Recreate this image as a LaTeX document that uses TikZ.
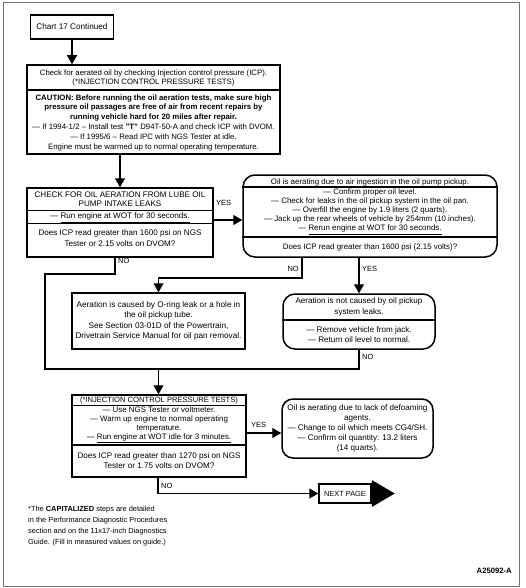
\documentclass[tikz,border=0pt]{standalone}
\usepackage{fontspec}
\setmainfont{Liberation Sans}
\usetikzlibrary{arrows.meta}
\begin{document}
\begin{tikzpicture}[x=1pt,y=-1pt,
  box/.style={draw, line width=1.5pt, inner sep=0pt, align=center, font=\fontsize{8.2}{10.4}\selectfont},
  rbox/.style={box, rounded corners=12pt},
  div/.style={line width=1.2pt},
  txt/.style={inner sep=0pt, align=center, font=\fontsize{8.1}{9.4}\selectfont},
  lab/.style={inner sep=0pt, font=\fontsize{7.5}{9}\selectfont},
  con/.style={line width=1.1pt},
  arr/.style={con, -{Triangle[length=9pt,width=10pt]}},
]
\useasboundingbox (0,0) rectangle (525,588);
\draw[black!55, line width=0.8pt] (3,2) rectangle (519,586);

% box 1
\node[box, line width=1.8pt, minimum width=83pt, minimum height=24pt] (b1) at (72,27) {Chart 17 Continued};

% box 2
\node[box, minimum width=253pt, minimum height=89pt] (b2) at (153.5,109.5) {};
\coordinate (d2) at (0,90);
\draw[div] (b2.west |- d2) -- (b2.east |- d2);
\node[txt, font=\fontsize{7.8}{9.8}\selectfont] (b2a) at (153.5,78) {Check for aerated oil by checking Injection control pressure (ICP).\\(*INJECTION CONTROL PRESSURE TESTS)};
\node[txt, font=\fontsize{7.8}{9.8}\selectfont] (b2b) at (153.5,122.5) {\textbf{CAUTION: Before running the oil aeration tests, make sure high}\\\textbf{pressure oil passages are free of air from recent repairs by}\\\textbf{running vehicle hard for 20 miles after repair.}\\— If 1994-1/2 – Install test \textbf{"T"} D94T-50-A and check ICP with DVOM.\\— If 1995/6 – Read IPC with NGS Tester at idle.\\Engine must be warmed up to normal operating temperature.};

% box 3
\node[box, minimum width=186pt, minimum height=69pt] (b3) at (120,222.5) {};
\coordinate (d3a) at (0,210.5);
\coordinate (d3b) at (0,223.5);
\draw[div] (b3.west |- d3a) -- (b3.east |- d3a);
\draw[div] (b3.west |- d3b) -- (b3.east |- d3b);
\node[txt] (b3a) at (120,199.4) {CHECK FOR OIL AERATION FROM LUBE OIL\\PUMP INTAKE LEAKS};
\node[txt, anchor=base] (b3b) at (120,218.8) {— \underline{Run engine at WOT for 30 seconds.}};
\node[txt, font=\fontsize{8.1}{10.8}\selectfont] (b3c) at (120,238) {Does ICP read greater than 1600 psi on NGS\\Tester or 2.15 volts on DVOM?};

% box 4
\node[rbox, minimum width=254pt, minimum height=82pt] (b4) at (370,216) {};
\coordinate (d4a) at (0,187);
\coordinate (d4b) at (0,237);
\draw[div] (b4.west |- d4a) -- (b4.east |- d4a);
\draw[div] (b4.west |- d4b) -- (b4.east |- d4b);
\node[txt, anchor=base, font=\fontsize{7.9}{9}\selectfont] (b4a) at (370,184.2) {Oil is aerating due to air ingestion in the oil pump pickup.};
\node[txt, font=\fontsize{7.9}{9}\selectfont] (b4b) at (370,211.8) {— Confirm proper oil level.\\— Check for leaks in the oil pickup system in the oil pan.\\— Overfill the engine by 1.9 liters (2 quarts).\\— Jack up the rear wheels of vehicle by 254mm (10 inches).\\— \underline{Rerun engine at WOT for 30 seconds.}};
\node[txt, anchor=base, font=\fontsize{7.9}{9}\selectfont] (b4c) at (370,249.5) {Does ICP read greater than 1600 psi (2.15 volts)?};

% box 5
\node[box, minimum width=173pt, minimum height=56pt] (b5) at (158.5,321) {Aeration is caused by O-ring leak or a hole in\\the oil pickup tube.\\See Section 03-01D of the Powertrain,\\Drivetrain Service Manual for oil pan removal.};

% box 6
\node[rbox, minimum width=152pt, minimum height=55pt] (b6) at (359,321.5) {};
\coordinate (d6) at (0,320);
\draw[div] (b6.west |- d6) -- (b6.east |- d6);
\node[txt, font=\fontsize{8.1}{10.2}\selectfont] (b6a) at (359,307) {Aeration is not caused by oil pickup\\system leaks.};
\node[txt, font=\fontsize{8.1}{10.2}\selectfont] (b6b) at (359,334.5) {— Remove vehicle from jack.\\— Return oil level to normal.};

% box 7
\node[box, minimum width=174pt, minimum height=82pt] (b7) at (159,436) {};
\coordinate (d7a) at (0,405.5);
\coordinate (d7b) at (0,445);
\draw[div] (b7.west |- d7a) -- (b7.east |- d7a);
\draw[div] (b7.west |- d7b) -- (b7.east |- d7b);
\node[txt, anchor=base, font=\fontsize{7.6}{9}\selectfont] (b7a) at (159,402.6) {(*INJECTION CONTROL PRESSURE TESTS)};
\node[txt, font=\fontsize{7.9}{9}\selectfont] (b7b) at (159,425) {— Use NGS Tester or voltmeter.\\— Warm up engine to normal operating\\temperature.\\— \underline{Run engine at WOT idle for 3 minutes.}};
\node[txt, font=\fontsize{8.1}{10.5}\selectfont] (b7c) at (159,460.5) {Does ICP read greater than 1270 psi on NGS\\Tester or 1.75 volts on DVOM?};

% box 8
\node[rbox, rounded corners=11pt, minimum width=151pt, minimum height=59pt, font=\fontsize{8.1}{10}\selectfont] (b8) at (357.5,428.5) {Oil is aerating due to lack of defoaming\\agents.\\— Change to oil which meets CG4/SH.\\— Confirm oil quantity: 13.2 liters\\(14 quarts).};

% next page
\node[box, minimum width=52pt, minimum height=19pt, font=\fontsize{7.4}{8}\selectfont] (np) at (345,493.5) {NEXT PAGE};
\fill (np.east) ++(0,-13.5) -- ++(23,13.5) -- ++(-23,13.5) -- cycle;

% connectors
\draw[arr] (b1.south) -- (b1.south |- b2.north);
\draw[arr] (b2.south -| b3.north) -- (b3.north);

\coordinate (y1) at (230,220);
\draw[arr] (b3.east |- y1) -- (b4.west |- y1);
\node[lab, anchor=base west] (ly1) at (216,205) {YES};

\coordinate (n1) at (115,274);
\coordinate (n2) at (45,369);
\coordinate (jn) at (158.5,369);
\draw[con] (b3.south -| n1) -- (n1) -- (n1 -| n2) -- (n2) -- (jn);
\node[lab, anchor=base west] (ln1) at (118,263) {NO};

\coordinate (n3) at (302,278);
\draw[arr] (b4.south -| n3) -- (n3) -- (n3 -| b5.north) -- (b5.north);
\node[lab, anchor=base east] (ln2) at (299,271) {NO};

\draw[arr] (b4.south -| b6.north) -- (b6.north);
\node[lab, anchor=base west] (ly2) at (362,271) {YES};

\draw[con] (b6.south) -- (b6.south |- jn) -- (jn);
\node[lab, anchor=base west] (ln3) at (362,359) {NO};

\draw[arr] (jn) -- (jn |- b7.north);

\coordinate (y2) at (260,433);
\draw[arr] (b7.east |- y2) -- (b8.west |- y2);
\node[lab, anchor=base west] (ly3) at (251,427) {YES};

\coordinate (n4) at (158,493.5);
\draw[arr] (b7.south -| n4) -- (n4) -- (np.west);
\node[lab, anchor=base west] (ln4) at (161,488) {NO};

% footnote
\node[anchor=north west, inner sep=0pt, align=left, font=\fontsize{7.4}{11}\selectfont] (fn) at (28,506) {*The \textbf{CAPITALIZED} steps are detailed\\in the Performance Diagnostic Procedures\\section and on the 11x17-inch Diagnostics\\Guide. (Fill in measured values on guide.)};
\node[anchor=base east, inner sep=0pt, font=\bfseries\fontsize{7.7}{9}\selectfont] (fig) at (512,573) {A25092-A};
\end{tikzpicture}
\end{document}
